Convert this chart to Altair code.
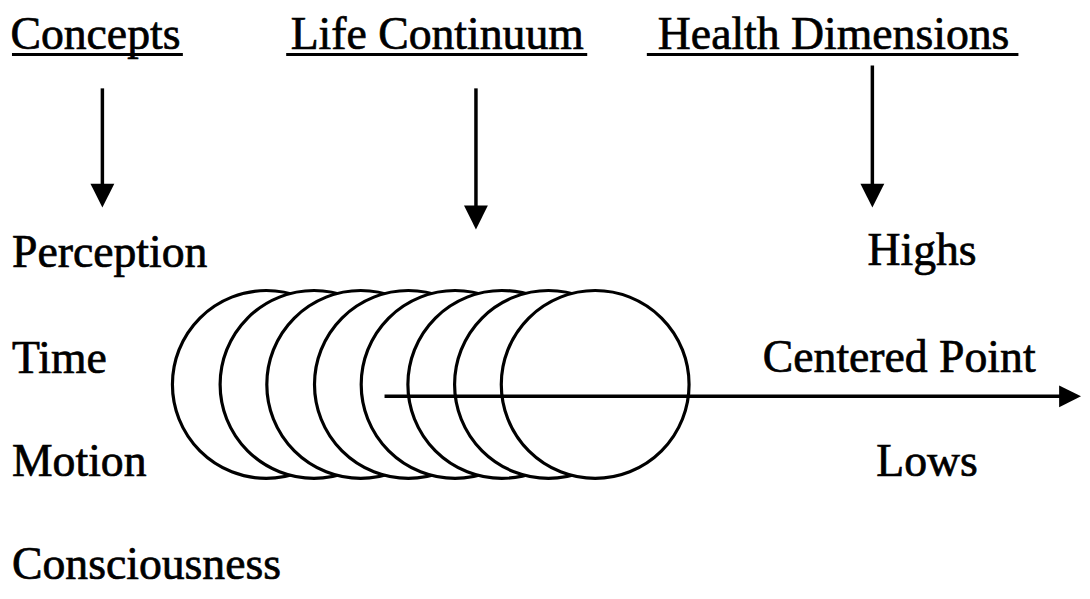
import altair as alt
import pandas as pd

# ---- data (positions are in the diagram's own coordinate space) ----
heading_text = ["Concepts", "Life Continuum", "Health Dimensions"]
heading_x = [96, 440, 839]
heading_y = [47, 47, 47]
underline_x1 = [12, 288, 651]
underline_x2 = [184, 591, 1025]
underline_y = [53, 53, 53]

left_text = ["Perception", "Time", "Motion", "Consciousness"]
left_x = [12, 12, 12, 12]
left_y = [267, 373, 477, 581]

right_text = ["Highs", "Centered Point", "Lows"]
right_x = [928, 905, 933]
right_y = [265, 372, 477]

arrow_x = [103, 479, 878]
arrow_top = [87, 87, 64]
arrow_tip = [207, 229, 207]

circle_x = [268, 316, 363, 411, 458, 505, 552, 599]
circle_y = [385, 385, 385, 385, 385, 385, 385, 385]
circle_order = [1, 2, 3, 4, 5, 6, 7, 8]

axis_line_x = [387]
axis_line_tip = [1088]
axis_line_y = [397]

W, H = 1081, 580
xs = alt.Scale(domain=[8, 8 + W], range=[0, W], nice=False, zero=False)
ys = alt.Scale(domain=[8, 8 + H], reverse=True, nice=False, zero=False)

FONT = "Liberation Serif"
FS = 46
HEAD = 24  # arrowhead size in px

headings = pd.DataFrame({"x": heading_x, "y": heading_y, "t": heading_text})
underlines = pd.DataFrame({"x": underline_x1, "x2": underline_x2, "y": underline_y})
lefts = pd.DataFrame({"x": left_x, "y": left_y, "t": left_text})
rights = pd.DataFrame({"x": right_x, "y": right_y, "t": right_text})
arrows = pd.DataFrame({"x": arrow_x, "y": arrow_top,
                       "y2": [t - HEAD / 2 for t in arrow_tip],
                       "yh": [t - HEAD / 2 for t in arrow_tip]})
circles = pd.DataFrame({"x": circle_x, "y": circle_y, "o": circle_order})
axis_df = pd.DataFrame({"x": axis_line_x,
                        "x2": [t - 11 for t in axis_line_tip],
                        "y": axis_line_y})

X = lambda f="x": alt.X(f"{f}:Q", scale=xs, axis=None)
Y = lambda f="y": alt.Y(f"{f}:Q", scale=ys, axis=None)

text_style = dict(font=FONT, fontSize=FS, baseline="alphabetic", color="black",
                  stroke="black", strokeWidth=0.7)

t_center = alt.Chart(pd.concat([headings, rights])).mark_text(
    align="center", **text_style
).encode(x=X(), y=Y(), text="t:N")

t_left = alt.Chart(lefts).mark_text(
    align="left", **text_style
).encode(x=X(), y=Y(), text="t:N")

ul = alt.Chart(underlines).mark_rule(color="black", strokeWidth=3).encode(
    x=X(), x2="x2:Q", y=Y())

shafts = alt.Chart(arrows).mark_rule(color="black", strokeWidth=3.5).encode(
    x=X(), y=Y(), y2="y2:Q")

heads = alt.Chart(arrows).mark_point(
    shape="M-1,-1L1,-1L0,1Z", filled=True, color="black", opacity=1,
    size=HEAD * HEAD, strokeWidth=0
).encode(x=X(), y=Y("yh"))

rings = alt.Chart(circles).mark_point(
    shape="circle", filled=True, fill="white", stroke="black", opacity=1,
    fillOpacity=1, size=189 * 189, strokeWidth=3.2
).encode(x=X(), y=Y(), order=alt.Order("o:Q"))

hline = alt.Chart(axis_df).mark_rule(color="black", strokeWidth=3.5).encode(
    x=X(), x2="x2:Q", y=Y())

hhead = alt.Chart(axis_df).mark_point(
    shape="M-1,-1L1,0L-1,1Z", filled=True, color="black", opacity=1,
    size=22 * 22, strokeWidth=0
).encode(x=X("x2"), y=Y())

chart = alt.layer(rings, hline, hhead, shafts, heads, ul, t_center, t_left).properties(
    width=W, height=H, autosize=alt.AutoSizeParams(type="none"), padding=0,
    background="white"
).configure_view(stroke=None)

chart.save("out.html", embed_options={"renderer": "svg", "actions": False})
